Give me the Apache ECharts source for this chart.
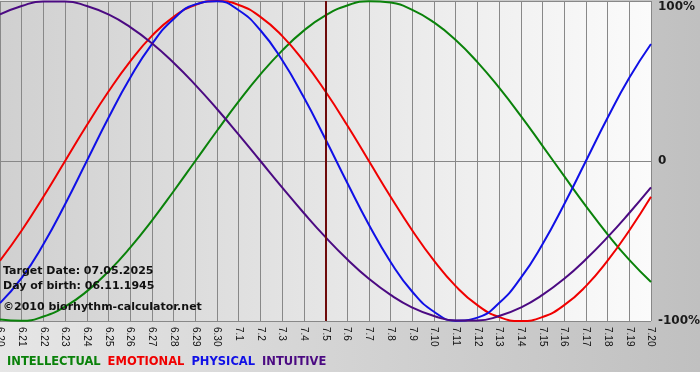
<!DOCTYPE html>
<html>
<head>
<meta charset="utf-8">
<script src="https://cdn.jsdelivr.net/npm/echarts@6/dist/echarts.min.js"></script>
<style>
html,body{margin:0;padding:0;background:#fff;}
#c{width:700px;height:380px;}
</style>
</head>
<body>
<div id="c"></div>
<script>
const dates = ['6.20','6.21','6.22','6.23','6.24','6.25','6.26','6.27','6.28','6.29','6.30',
  '7.1','7.2','7.3','7.4','7.5','7.6','7.7','7.8','7.9','7.10','7.11','7.12','7.13','7.14',
  '7.15','7.16','7.17','7.18','7.19','7.20'];
const intellectual = [-99.0,-99.9,-97.2,-91.0,-81.5,-69.0,-54.1,-37.2,-18.9,0,18.9,37.2,54.1,69.0,81.5,91.0,97.2,99.9,99.0,94.5,86.6,75.6,61.8,45.8,28.2,9.5,-9.5,-28.2,-45.8,-61.8,-75.6];
const emotional = [-62.3,-43.4,-22.3,0,22.3,43.4,62.3,78.2,90.1,97.5,100,97.5,90.1,78.2,62.3,43.4,22.3,0,-22.3,-43.4,-62.3,-78.2,-90.1,-97.5,-100,-97.5,-90.1,-78.2,-62.3,-43.4,-22.3];
const physical = [-88.8,-73.1,-52.0,-27.0,0,27.0,52.0,73.1,88.8,97.9,99.8,94.2,81.7,63.1,39.8,13.6,-13.6,-39.8,-63.1,-81.7,-94.2,-99.8,-97.9,-88.8,-73.1,-52.0,-27.0,0,27.0,52.0,73.1];
const intuitive = [91.6,96.9,99.7,99.7,96.9,91.6,83.7,73.6,61.4,47.6,32.5,16.5,0,-16.5,-32.5,-47.6,-61.4,-73.6,-83.7,-91.6,-96.9,-99.7,-99.7,-96.9,-91.6,-83.7,-73.6,-61.4,-47.6,-32.5,-16.5];
const yTicks = {'100':'100%','0':'0','-100':'-100%'};
const targetDate = '7.5';
const infoLines = ['Target Date: 07.05.2025','Day of birth: 06.11.1945'];
const copyright = '\u00a92010 biorhythm-calculator.net';

const colors = {INTELLECTUAL:'#0a820a', EMOTIONAL:'#f00000', PHYSICAL:'#1010e6', INTUITIVE:'#4b0a82'};

const chart = echarts.init(document.getElementById('c'), null, {renderer:'canvas'});
function line(name, data, extra){
  return Object.assign({
    name, type:'line', data, smooth:true, symbol:'none',
    lineStyle:{width:2, color:colors[name]}, itemStyle:{color:colors[name]},
    silent:true, animation:false
  }, extra||{});
}
chart.setOption({
  animation:false,
  backgroundColor:{type:'linear',x:0,y:0,x2:1,y2:0,colorStops:[{offset:0,color:'#e6e6e6'},{offset:1,color:'#c0c0c0'}]},
  grid:{left:0,right:49,top:1,height:320,show:true,borderWidth:0,outerBoundsMode:'none',containLabel:false,
    backgroundColor:{type:'linear',x:0,y:0,x2:1,y2:0,colorStops:[{offset:0,color:'#d0d0d0'},{offset:1,color:'#fbfbfb'}]}},
  legend:{
    left:2, top:355, padding:0, icon:'none', itemWidth:0, itemHeight:14, itemGap:2,
    selectedMode:false,
    textStyle:{fontFamily:'DejaVu Sans', fontWeight:'bold', fontSize:11.5},
    data:Object.keys(colors).map(n=>({name:n, textStyle:{color:colors[n]}}))
  },
  xAxis:{
    type:'category', data:dates, boundaryGap:false,
    axisLine:{show:true, lineStyle:{color:'#888888'}},
    axisTick:{show:true, interval:0, length:4, lineStyle:{color:'#888888'}},
    splitLine:{show:true, interval:0, lineStyle:{color:'#888888', width:1}},
    axisLabel:{interval:0, rotate:-90, margin:6, fontSize:10, fontFamily:'Liberation Sans', color:'#111111'}
  },
  yAxis:{
    type:'value', position:'right', min:-100, max:100, interval:100,
    axisLine:{show:false}, axisTick:{show:false},
    splitLine:{show:true, lineStyle:{color:'#888888', width:1}},
    axisLabel:{margin:7, fontSize:12, fontWeight:'bold', fontFamily:'DejaVu Sans', color:'#1a1a1a',
      verticalAlignMaxLabel:'top', formatter:v=>yTicks[String(v)]}
  },
  series:[
    line('INTELLECTUAL', intellectual),
    line('EMOTIONAL', emotional),
    line('PHYSICAL', physical),
    line('INTUITIVE', intuitive, {
      markLine:{silent:true, symbol:['none','none'], label:{show:false}, animation:false,
        lineStyle:{color:'#6e0a0a', width:2, type:'solid'}, data:[{xAxis:targetDate}]}
    })
  ],
  graphic:[
    {type:'rect', left:0, top:372, z:-1, shape:{width:700,height:8}, style:{fill:'#ffffff'}, silent:true},
    {type:'text', x:3, y:271, style:{text:infoLines[0], fill:'#111111', font:'bold 11px "DejaVu Sans"', verticalAlign:'middle'}, z:100},
    {type:'text', x:3, y:286, style:{text:infoLines[1], fill:'#111111', font:'bold 11px "DejaVu Sans"', verticalAlign:'middle'}, z:100},
    {type:'text', x:3, y:307, style:{text:copyright, fill:'#111111', font:'bold 11px "DejaVu Sans"', verticalAlign:'middle'}, z:100}
  ]
});
</script>
</body>
</html>
